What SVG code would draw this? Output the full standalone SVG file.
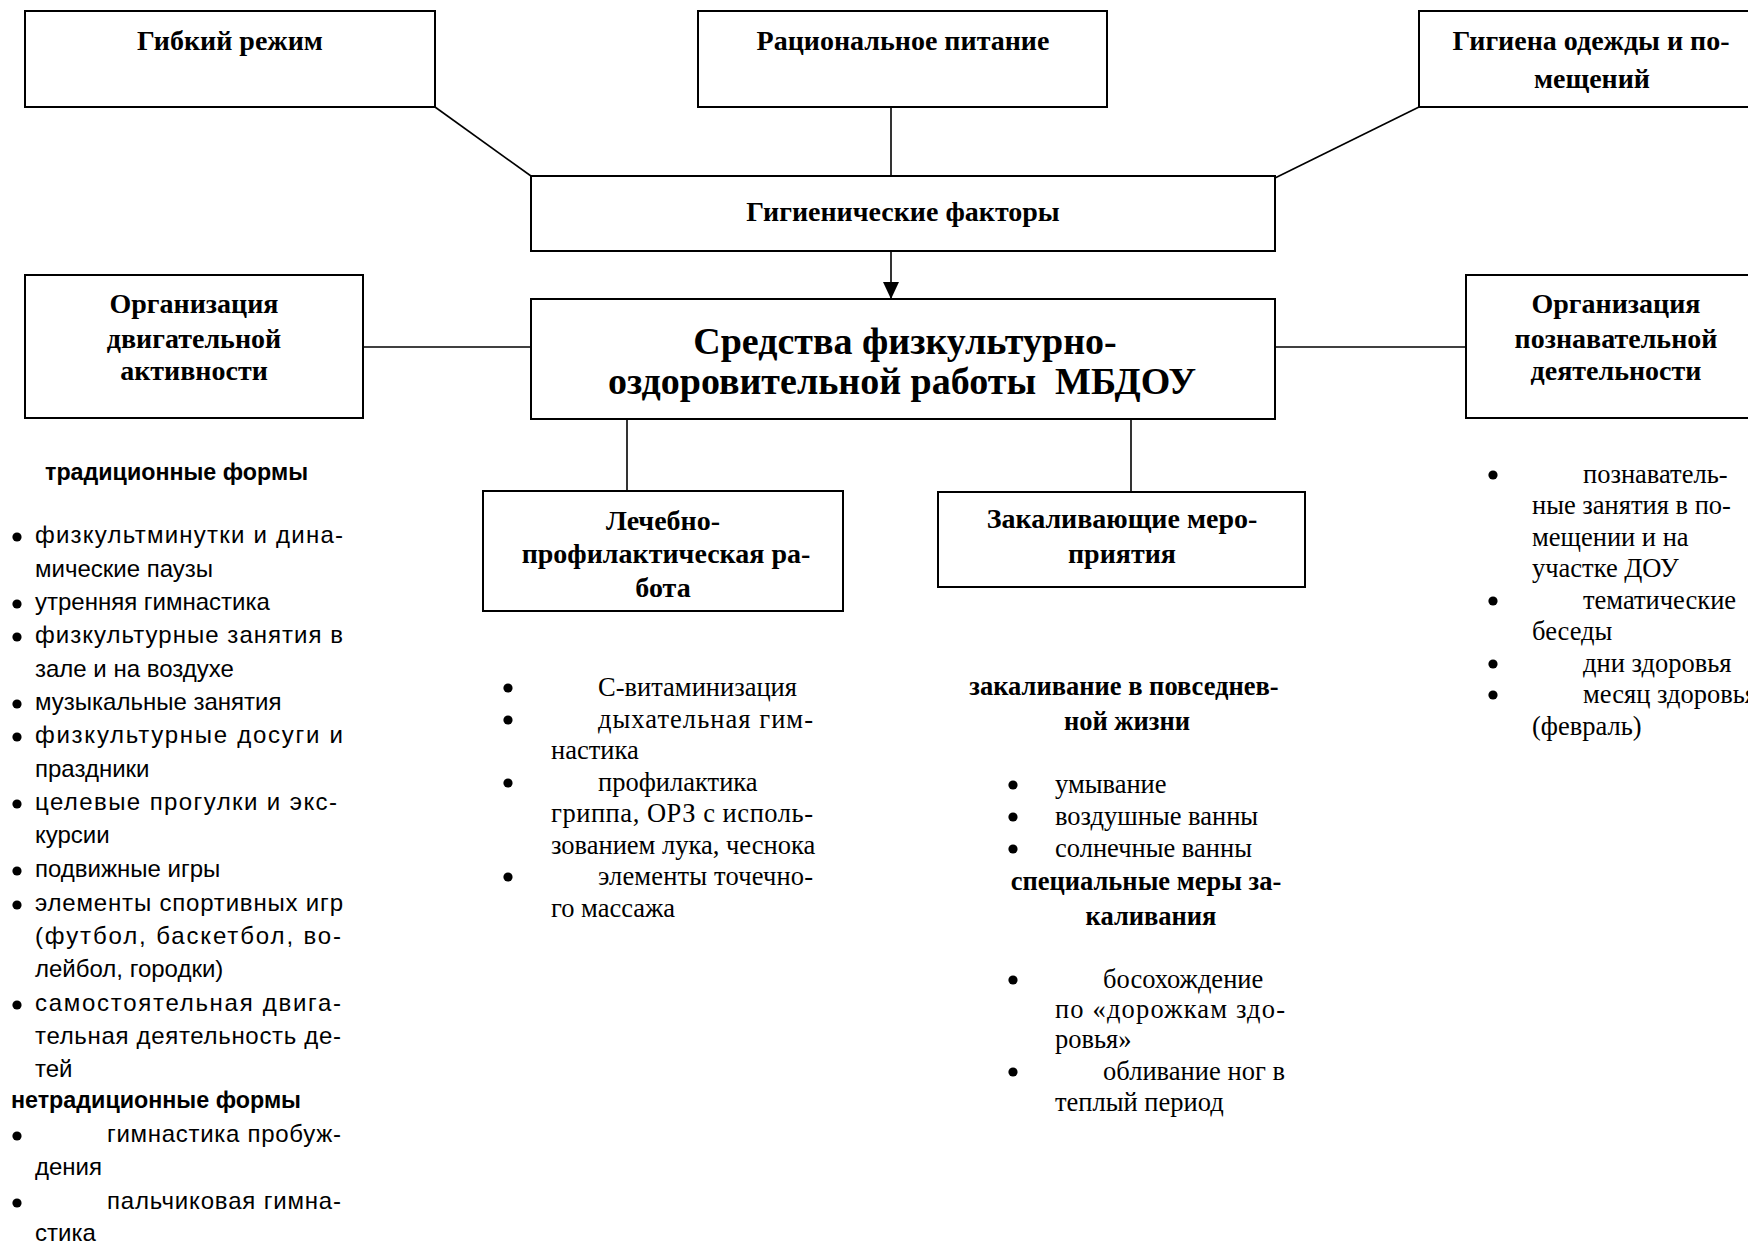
<svg xmlns="http://www.w3.org/2000/svg" width="1748" height="1243" viewBox="0 0 1748 1243">
<style>
.box{fill:#fff;stroke:#000;stroke-width:2}
.con{stroke:#000;stroke-width:1.6;fill:none}
.dot{fill:#000}
.lbl{font-family:"Liberation Serif","Times New Roman",serif;font-weight:bold;font-size:28px;text-anchor:middle;fill:#000}
.ttl{font-family:"Liberation Serif","Times New Roman",serif;font-weight:bold;font-size:38px;text-anchor:middle;fill:#000}
.ser{font-family:"Liberation Serif","Times New Roman",serif;font-size:26.5px;fill:#000}
.serb{font-family:"Liberation Serif","Times New Roman",serif;font-weight:bold;font-size:26.5px;fill:#000;text-anchor:middle}
.san{font-family:"Liberation Sans",Arial,sans-serif;font-size:24px;fill:#000}
.sanb{font-family:"Liberation Sans",Arial,sans-serif;font-size:24px;font-weight:bold;fill:#000}
</style>
<defs>
<marker id="arr" markerWidth="17" markerHeight="16" refX="17" refY="8" orient="auto" markerUnits="userSpaceOnUse">
<path d="M0,0 L17,8 L0,16 Z" fill="#000"/>
</marker>
<circle id="b" r="4.6"/>
</defs>

<g id="connectors">
<line class="con" x1="435" y1="107" x2="531" y2="176"/>
<line class="con" x1="891" y1="107" x2="891" y2="176"/>
<line class="con" x1="1419" y1="107" x2="1275" y2="178"/>
<line class="con" x1="891" y1="251" x2="891" y2="299" marker-end="url(#arr)"/>
<line class="con" x1="363" y1="347" x2="531" y2="347"/>
<line class="con" x1="1275" y1="347" x2="1466" y2="347"/>
<line class="con" x1="627" y1="419" x2="627" y2="491"/>
<line class="con" x1="1131" y1="419" x2="1131" y2="492"/>
</g>

<g id="node-gibkiy">
<rect class="box" x="25" y="11" width="410" height="96"/>
<text class="lbl" x="230" y="50">Гибкий режим</text>
</g>
<g id="node-pitanie">
<rect class="box" x="698" y="11" width="409" height="96"/>
<text class="lbl" x="903" y="50">Рациональное питание</text>
</g>
<g id="node-gigiena">
<rect class="box" x="1419" y="11" width="344" height="96"/>
<text class="lbl" x="1591" y="50">Гигиена одежды и по-</text>
<text class="lbl" x="1592" y="88">мещений</text>
</g>
<g id="node-faktory">
<rect class="box" x="531" y="176" width="744" height="75"/>
<text class="lbl" x="903" y="221">Гигиенические факторы</text>
</g>
<g id="node-main">
<rect class="box" x="531" y="299" width="744" height="120"/>
<text class="ttl" x="905" y="354">Средства физкультурно-</text>
<text class="ttl" x="902" y="394" xml:space="preserve">оздоровительной работы  МБДОУ</text>
</g>
<g id="node-dvig">
<rect class="box" x="25" y="275" width="338" height="143"/>
<text class="lbl" x="194" y="313">Организация</text>
<text class="lbl" x="194" y="348">двигательной</text>
<text class="lbl" x="194" y="380">активности</text>
</g>
<g id="node-pozn">
<rect class="box" x="1466" y="275" width="300" height="143"/>
<text class="lbl" x="1616" y="313">Организация</text>
<text class="lbl" x="1616" y="348">познавательной</text>
<text class="lbl" x="1616" y="380">деятельности</text>
</g>
<g id="node-lech">
<rect class="box" x="483" y="491" width="360" height="120"/>
<text class="lbl" x="663" y="530">Лечебно-</text>
<text class="lbl" x="666" y="563">профилактическая ра-</text>
<text class="lbl" x="663" y="597">бота</text>
</g>
<g id="node-zak">
<rect class="box" x="938" y="492" width="367" height="95"/>
<text class="lbl" x="1122" y="528">Закаливающие меро-</text>
<text class="lbl" x="1122" y="563">приятия</text>
</g>

<g id="list-dvig">
<text class="sanb" x="45" y="480" textLength="263" lengthAdjust="spacingAndGlyphs">традиционные формы</text>
<use href="#b" class="dot" x="17" y="537"/>
<text class="san" x="35" y="543" textLength="308">физкультминутки и дина-</text>
<text class="san" x="35" y="577">мические паузы</text>
<use href="#b" class="dot" x="17" y="604"/>
<text class="san" x="35" y="610">утренняя гимнастика</text>
<use href="#b" class="dot" x="17" y="637"/>
<text class="san" x="35" y="643" textLength="308">физкультурные занятия в</text>
<text class="san" x="35" y="677">зале и на воздухе</text>
<use href="#b" class="dot" x="17" y="704"/>
<text class="san" x="35" y="710">музыкальные занятия</text>
<use href="#b" class="dot" x="17" y="737"/>
<text class="san" x="35" y="743" textLength="308">физкультурные досуги и</text>
<text class="san" x="35" y="777">праздники</text>
<use href="#b" class="dot" x="17" y="804"/>
<text class="san" x="35" y="810" textLength="302">целевые прогулки и экс-</text>
<text class="san" x="35" y="843">курсии</text>
<use href="#b" class="dot" x="17" y="871"/>
<text class="san" x="35" y="877">подвижные игры</text>
<use href="#b" class="dot" x="17" y="905"/>
<text class="san" x="35" y="911" textLength="308">элементы спортивных игр</text>
<text class="san" x="35" y="944" textLength="306">(футбол, баскетбол, во-</text>
<text class="san" x="35" y="977">лейбол, городки)</text>
<use href="#b" class="dot" x="17" y="1005"/>
<text class="san" x="35" y="1011" textLength="306">самостоятельная двига-</text>
<text class="san" x="35" y="1044" textLength="306">тельная деятельность де-</text>
<text class="san" x="35" y="1077">тей</text>
<text class="sanb" x="11" y="1108" textLength="290" lengthAdjust="spacingAndGlyphs">нетрадиционные формы</text>
<use href="#b" class="dot" x="17" y="1136"/>
<text class="san" x="107" y="1142" textLength="234">гимнастика пробуж-</text>
<text class="san" x="35" y="1175">дения</text>
<use href="#b" class="dot" x="17" y="1203"/>
<text class="san" x="107" y="1209" textLength="234">пальчиковая гимна-</text>
<text class="san" x="35" y="1241">стика</text>
</g>

<g id="list-lech">
<use href="#b" class="dot" x="508" y="688"/>
<text class="ser" x="598" y="696">С-витаминизация</text>
<use href="#b" class="dot" x="508" y="720"/>
<text class="ser" x="598" y="728" textLength="215">дыхательная гим-</text>
<text class="ser" x="551" y="759">настика</text>
<use href="#b" class="dot" x="508" y="783"/>
<text class="ser" x="598" y="791">профилактика</text>
<text class="ser" x="551" y="822" textLength="262">гриппа, ОРЗ с исполь-</text>
<text class="ser" x="551" y="854">зованием лука, чеснока</text>
<use href="#b" class="dot" x="508" y="877"/>
<text class="ser" x="598" y="885" textLength="215">элементы точечно-</text>
<text class="ser" x="551" y="917">го массажа</text>
</g>

<g id="list-zak">
<text class="serb" x="1124" y="695">закаливание в повседнев-</text>
<text class="serb" x="1127" y="730">ной жизни</text>
<use href="#b" class="dot" x="1013" y="785"/>
<text class="ser" x="1055" y="793">умывание</text>
<use href="#b" class="dot" x="1013" y="817"/>
<text class="ser" x="1055" y="825">воздушные ванны</text>
<use href="#b" class="dot" x="1013" y="849"/>
<text class="ser" x="1055" y="857">солнечные ванны</text>
<text class="serb" x="1146" y="890">специальные меры за-</text>
<text class="serb" x="1151" y="925">каливания</text>
<use href="#b" class="dot" x="1013" y="980"/>
<text class="ser" x="1103" y="988">босохождение</text>
<text class="ser" x="1055" y="1018" textLength="230">по «дорожкам здо-</text>
<text class="ser" x="1055" y="1048">ровья»</text>
<use href="#b" class="dot" x="1013" y="1072"/>
<text class="ser" x="1103" y="1080" textLength="182">обливание ног в</text>
<text class="ser" x="1055" y="1111">теплый период</text>
</g>

<g id="list-pozn">
<use href="#b" class="dot" x="1493" y="475"/>
<text class="ser" x="1583" y="483">познаватель-</text>
<text class="ser" x="1532" y="514">ные занятия в по-</text>
<text class="ser" x="1532" y="546">мещении и на</text>
<text class="ser" x="1532" y="577">участке ДОУ</text>
<use href="#b" class="dot" x="1493" y="601"/>
<text class="ser" x="1583" y="609">тематические</text>
<text class="ser" x="1532" y="640">беседы</text>
<use href="#b" class="dot" x="1493" y="664"/>
<text class="ser" x="1583" y="672">дни здоровья</text>
<use href="#b" class="dot" x="1493" y="695"/>
<text class="ser" x="1583" y="703">месяц здоровья</text>
<text class="ser" x="1532" y="735">(февраль)</text>
</g>
</svg>
